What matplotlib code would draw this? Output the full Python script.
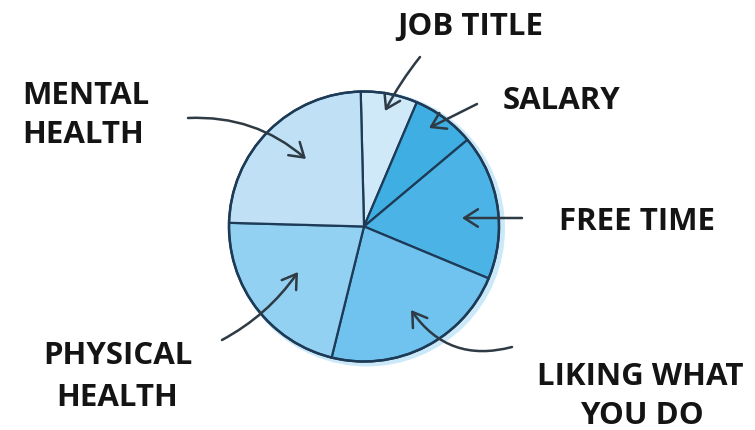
import matplotlib
matplotlib.use("Agg")
import matplotlib.pyplot as plt
from matplotlib.patches import FancyArrowPatch, Circle

# ---- data ----
categories = ["JOB TITLE", "SALARY", "FREE TIME", "LIKING WHAT\nYOU DO", "PHYSICAL\nHEALTH", "MENTAL\nHEALTH"]
values = [6.8, 7.5, 17.4, 22.6, 21.6, 24.2]
colors = ["#cfe9f8", "#3faee3", "#4cb3e6", "#70c3ee", "#93d1f3", "#bfe0f5"]

W, H = 755, 430
fig = plt.figure(figsize=(W / 100, H / 100), dpi=100)
ax = fig.add_axes([0, 0, 1, 1])

def P(x, y):
    return (x, H - y)

cx, cy = P(364, 226.5)
R = 135

# soft glow
ax.add_patch(Circle((cx + 3, cy - 2), R + 3, color="#8fd0f2", alpha=0.45, lw=0, zorder=0))

ax.pie(values, colors=colors, startangle=91.4, counterclock=False,
       center=(cx, cy), radius=R,
       wedgeprops=dict(edgecolor="#1d3b56", linewidth=1.6),
       frame=False)
ax.add_patch(Circle((cx, cy), R, fill=False, edgecolor="#1d3b56", lw=1.8, zorder=5))

ax.set_xlim(0, W)
ax.set_ylim(0, H)
ax.set_aspect("equal")
ax.axis("off")

font = dict(family=["Open Sans", "DejaVu Sans"], fontweight="bold", fontsize=22.5, color="#141414",
            va="baseline")

# per-line placement (x, line-centre y, alignment)
label_lines = {
    "JOB TITLE": [(470, 24, "center")],
    "SALARY": [(562, 98, "center")],
    "FREE TIME": [(637, 219, "center")],
    "LIKING WHAT\nYOU DO": [(640, 374, "center"), (642, 413, "center")],
    "PHYSICAL\nHEALTH": [(118, 353, "center"), (117, 395, "center")],
    "MENTAL\nHEALTH": [(22, 93, "left"), (22, 132, "left")],
}
for c in categories:
    for line, (x, y, ha) in zip(c.split("\n"), label_lines[c]):
        ax.text(*P(x, y + 11), line, ha=ha, **font)

arrows = [
    ((420, 57), (385, 111), 0.05),
    ((477, 104), (429, 128), 0.0),
    ((522, 218), (462, 218), 0.0),
    ((512, 347), (411, 310), -0.35),
    ((222, 340), (298, 272), 0.12),
    ((188, 118), (306, 159), -0.2),
]
for (a, b, rad) in arrows:
    ar = FancyArrowPatch(P(*a), P(*b), connectionstyle=f"arc3,rad={rad}",
                         arrowstyle="->,head_length=0.7,head_width=0.45",
                         mutation_scale=14, color="#2e3a44", lw=1.8, zorder=6,
                         shrinkA=0, shrinkB=0)
    ax.add_patch(ar)

fig.savefig("out.png", dpi=100, facecolor="white")
